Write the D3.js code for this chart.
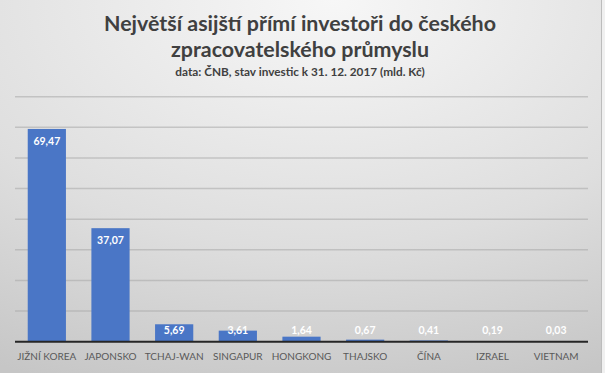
<!DOCTYPE html>
<html><head><meta charset="utf-8">
<script src="https://cdn.jsdelivr.net/npm/d3@7"></script>
<style>body{margin:0;padding:0;overflow:hidden}svg{display:block}</style>
</head><body>
<svg id="c" width="605" height="373"></svg>
<script>
(function(){
const categories = ["JIŽNÍ KOREA","JAPONSKO","TCHAJ-WAN","SINGAPUR","HONGKONG","THAJSKO","ČÍNA","IZRAEL","VIETNAM"];
const values = [69.47,37.07,5.69,3.61,1.64,0.67,0.41,0.19,0.03];
const valueLabels = ["69,47","37,07","5,69","3,61","1,64","0,67","0,41","0,19","0,03"];
const yTicks = [10,20,30,40,50,60,70,80];
const titleLines = ["Největší asijští přímí investoři do českého","zpracovatelského průmyslu"];
const subtitle = "data: ČNB, stav investic k 31. 12. 2017 (mld. Kč)";

const W=605,H=373;
const svg=d3.select("#c");
const defs=svg.append("defs");
const g=defs.append("radialGradient").attr("id","bg").attr("cx","50%").attr("cy","0%").attr("r","110%").attr("fx","55%").attr("fy","0%");
g.append("stop").attr("offset","0%").attr("stop-color","#f7f7f7");
g.append("stop").attr("offset","60%").attr("stop-color","#dedede");
g.append("stop").attr("offset","100%").attr("stop-color","#c6c6c6");
svg.append("rect").attr("width",W).attr("height",H).attr("fill","url(#bg)");
svg.append("rect").attr("x",602).attr("width",3).attr("height",H).attr("fill","#f0f0f0");
svg.append("line").attr("x1",601.5).attr("x2",601.5).attr("y1",0).attr("y2",H).attr("stroke","#bcbcbc");

const pLeft=15,pRight=588,pTop=96.7,base=341.7;
const x=d3.scaleBand().domain(categories).range([pLeft,pRight]).paddingInner(0.4).paddingOuter(0.2);
const y=d3.scaleLinear().domain([0,80]).range([base,pTop]);

svg.append("g").selectAll("line").data(yTicks).join("line")
  .attr("x1",pLeft).attr("x2",pRight).attr("y1",d=>y(d)).attr("y2",d=>y(d))
  .attr("stroke","#a8a8a8").attr("stroke-opacity",0.55).attr("stroke-width",1.5);

svg.append("g").selectAll("rect").data(values).join("rect")
  .attr("x",(d,i)=>x(categories[i])).attr("width",x.bandwidth())
  .attr("y",d=>y(d)).attr("height",d=>base-y(d)).attr("fill","#4a76c6");

svg.append("line").attr("x1",pLeft).attr("x2",pRight).attr("y1",base).attr("y2",base)
  .attr("stroke","#262626").attr("stroke-width",2);

const font="Lato, 'Open Sans', sans-serif";
svg.append("g").selectAll("text").data(values).join("text")
  .attr("x",(d,i)=>x(categories[i])+x.bandwidth()/2)
  .attr("y",d=>Math.min(y(d)+12.5,330.5))
  .attr("dy","0.35em").attr("text-anchor","middle")
  .attr("font-family",font).attr("font-weight","bold").attr("font-size","10.5px")
  .attr("fill","#ffffff").text((d,i)=>valueLabels[i]);

const xAxis=svg.append("g").attr("transform",`translate(0,${base})`)
  .call(d3.axisBottom(x).tickSize(0).tickPadding(0));
xAxis.select(".domain").remove();
xAxis.selectAll("text").attr("y",18.3).attr("dy","0")
  .attr("font-family",font).attr("font-size","10px").attr("fill","#595959");

const cx=300;
svg.append("g").selectAll("text").data(titleLines).join("text")
  .attr("x",cx).attr("y",(d,i)=>31+i*26).attr("text-anchor","middle")
  .attr("font-family",font).attr("font-weight","bold").attr("font-size","21.4px")
  .attr("fill","#404040").text(d=>d);
svg.append("text").attr("x",cx).attr("y",75.5).attr("text-anchor","middle")
  .attr("font-family",font).attr("font-weight","bold").attr("font-size","11.8px")
  .attr("fill","#404040").text(subtitle);
})();
</script>
</body></html>
